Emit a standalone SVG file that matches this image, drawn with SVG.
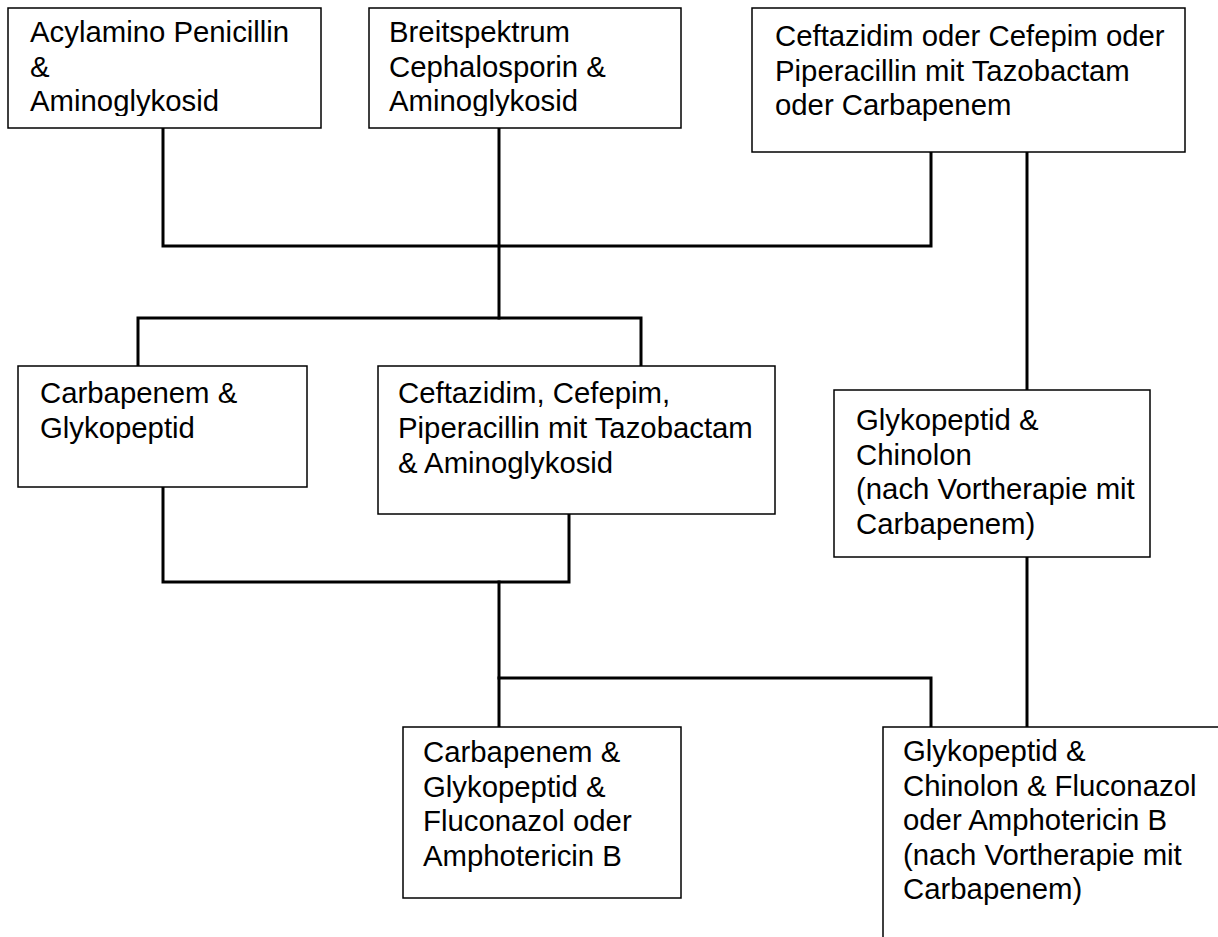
<svg xmlns="http://www.w3.org/2000/svg" width="1218" height="937" viewBox="0 0 1218 937">
<style>
.box{fill:#fff;stroke:#000;stroke-width:1.5}
.t{font-family:"Liberation Sans",Arial,sans-serif;font-size:29.33px;fill:#000}
.c{stroke:#000;stroke-width:3;fill:none;stroke-linecap:square}
</style>
<defs>
<clipPath id="clipTop"><rect x="0" y="0" width="1218" height="116"/></clipPath>
</defs>
<g id="connectors">
<path class="c" d="M163,128 V246 H931 V152"/>
<path class="c" d="M499,128 V318"/>
<path class="c" d="M138,366 V318 H641 V366"/>
<path class="c" d="M1027,152 V390"/>
<path class="c" d="M163,487 V582 H569 V514"/>
<path class="c" d="M499,582 V727"/>
<path class="c" d="M499,678 H931 V727"/>
<path class="c" d="M1027,557 V727"/>
</g>
<g id="n1">
<rect class="box" x="8" y="8" width="313" height="120"/>
<g clip-path="url(#clipTop)"><text class="t" x="30" y="42">Acylamino Penicillin</text><text class="t" x="30" y="77">&amp;</text><text class="t" x="30" y="111">Aminoglykosid</text></g>
</g>
<g id="n2">
<rect class="box" x="369" y="8" width="312" height="120"/>
<g clip-path="url(#clipTop)"><text class="t" x="389" y="42">Breitspektrum</text><text class="t" x="389" y="77">Cephalosporin &amp;</text><text class="t" x="389" y="111">Aminoglykosid</text></g>
</g>
<g id="n3">
<rect class="box" x="752" y="8" width="433" height="144"/>
<text class="t" x="775" y="46">Ceftazidim oder Cefepim oder</text><text class="t" x="775" y="80.5">Piperacillin mit Tazobactam</text><text class="t" x="775" y="115">oder Carbapenem</text>
</g>
<g id="n4">
<rect class="box" x="18" y="366" width="289" height="121"/>
<text class="t" x="40" y="403">Carbapenem &amp;</text><text class="t" x="40" y="438">Glykopeptid</text>
</g>
<g id="n5">
<rect class="box" x="378" y="366" width="397" height="148"/>
<text class="t" x="398" y="403">Ceftazidim, Cefepim,</text><text class="t" x="398" y="438">Piperacillin mit Tazobactam</text><text class="t" x="398" y="473">&amp; Aminoglykosid</text>
</g>
<g id="n6">
<rect class="box" x="834" y="390" width="316" height="167"/>
<text class="t" x="856" y="430">Glykopeptid &amp;</text><text class="t" x="856" y="464.5">Chinolon</text><text class="t" x="856" y="499">(nach Vortherapie mit</text><text class="t" x="856" y="533.5">Carbapenem)</text>
</g>
<g id="n7">
<rect class="box" x="403" y="727" width="278" height="171"/>
<text class="t" x="423" y="762">Carbapenem &amp;</text><text class="t" x="423" y="797">Glykopeptid &amp;</text><text class="t" x="423" y="831">Fluconazol oder</text><text class="t" x="423" y="866">Amphotericin B</text>
</g>
<g id="n8">
<rect class="box" x="883" y="727" width="400" height="260"/>
<text class="t" x="903" y="761">Glykopeptid &amp;</text><text class="t" x="903" y="796">Chinolon &amp; Fluconazol</text><text class="t" x="903" y="830">oder Amphotericin B</text><text class="t" x="903" y="865">(nach Vortherapie mit</text><text class="t" x="903" y="899">Carbapenem)</text>
</g>
</svg>
